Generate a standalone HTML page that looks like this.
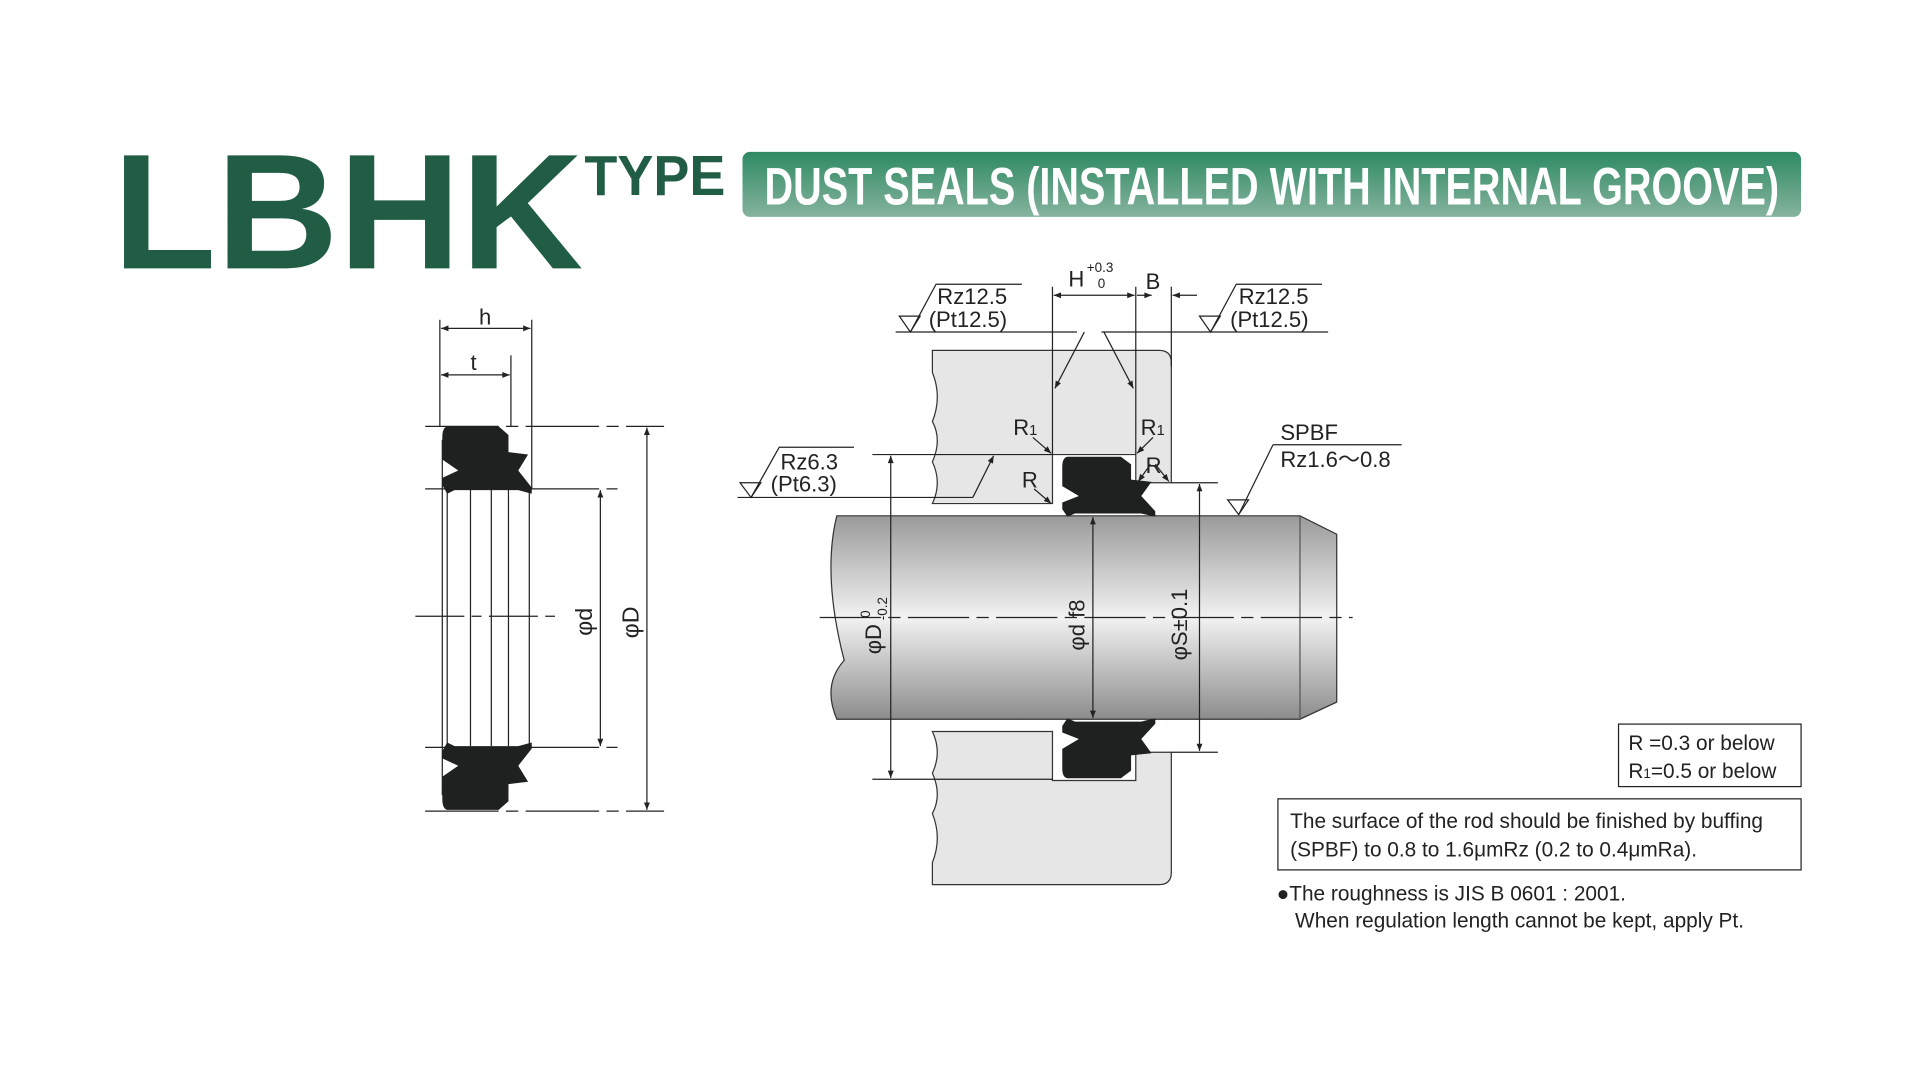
<!DOCTYPE html>
<html><head><meta charset="utf-8"><style>
html,body{margin:0;padding:0;background:#fff;width:1920px;height:1080px;overflow:hidden}
svg{display:block}
text{font-family:"Liberation Sans",sans-serif;fill:#222}
</style></head><body>
<svg width="1920" height="1080" viewBox="0 0 1560 877.5" xmlns="http://www.w3.org/2000/svg">
<defs>
<linearGradient id="ban" x1="0" y1="0" x2="0" y2="1"><stop offset="0" stop-color="#2e8a63"/><stop offset="1" stop-color="#86b39e"/></linearGradient>
<linearGradient id="rod" x1="0" y1="0" x2="0" y2="1"><stop offset="0" stop-color="#9a9a9a"/><stop offset="0.5" stop-color="#f2f2f2"/><stop offset="1" stop-color="#8c8c8c"/></linearGradient>
<marker id="ar" viewBox="0 0 10 10" refX="10" refY="5" markerWidth="9" markerHeight="6" orient="auto-start-reverse" markerUnits="userSpaceOnUse"><path d="M0,1 L10,5 L0,9 z" fill="#222"/></marker>
<path id="seal" d="M366,349 L408,349 L416,356 L416,370 L432,372 L424,385 L435,399 L435,404 L424,401 L372,401 L366,404 L362,397 L362,391 L375,385 L362,376 L362,358 Q362,350 366,349 Z" fill="#1e2120"/>
</defs>
<g transform="translate(-1,-1) scale(0.9955)">
<!-- Title -->
<text x="93" y="220" font-size="134" font-weight="bold" textLength="384" lengthAdjust="spacingAndGlyphs" style="fill:#215c45">LBHK</text>
<text x="478" y="160" font-size="46" font-weight="bold" textLength="115" lengthAdjust="spacingAndGlyphs" style="fill:#215c45">TYPE</text>
<rect x="607" y="125" width="864" height="53" rx="6" fill="url(#ban)"/>
<text x="625" y="168" font-size="43" font-weight="bold" textLength="828" lengthAdjust="spacingAndGlyphs" style="fill:#fff">DUST SEALS (INSTALLED WITH INTERNAL GROOVE)</text>

<!-- LEFT DRAWING -->
<g stroke="#222" stroke-width="1" fill="none">
<line x1="360" y1="262" x2="360" y2="349"/><line x1="435" y1="262" x2="435" y2="400"/>
<line x1="418" y1="291" x2="418" y2="349"/>
<line x1="361" y1="269" x2="434" y2="269" marker-start="url(#ar)" marker-end="url(#ar)"/>
<line x1="361" y1="307" x2="417" y2="307" marker-start="url(#ar)" marker-end="url(#ar)"/>
<line x1="362" y1="360" x2="362" y2="650"/><line x1="366" y1="400" x2="366" y2="610"/>
<line x1="385" y1="400" x2="385" y2="610"/><line x1="402" y1="400" x2="402" y2="610"/>
<line x1="416" y1="400" x2="416" y2="610"/><line x1="433" y1="400" x2="433" y2="610"/>
<line x1="348" y1="349" x2="543" y2="349" stroke-dasharray="60,6,10,6"/>
<line x1="348" y1="400" x2="505" y2="400" stroke-dasharray="60,6,10,6"/>
<line x1="348" y1="611" x2="505" y2="611" stroke-dasharray="60,6,10,6"/>
<line x1="348" y1="663" x2="543" y2="663" stroke-dasharray="60,6,10,6"/>
<line x1="340" y1="504" x2="455" y2="504" stroke-dasharray="40,6,8,6"/>
<line x1="491" y1="401" x2="491" y2="610" marker-start="url(#ar)" marker-end="url(#ar)"/>
<line x1="529" y1="350" x2="529" y2="662" marker-start="url(#ar)" marker-end="url(#ar)"/>
</g>
<use href="#seal"/>
<use href="#seal" transform="translate(0,1011) scale(1,-1)"/>
<text x="392" y="266" font-size="18">h</text>
<text x="385" y="303" font-size="18">t</text>
<text transform="translate(484,520) rotate(-90)" font-size="19">φd</text>
<text transform="translate(522,522) rotate(-90)" font-size="19">φD</text>

<!-- RIGHT DRAWING housing -->
<path d="M762,287 L947,287 Q957,287 957,297 L957,395 L928,395 L928,372 L860,372 L860,412 L762,412 Q770,395 762,378 Q770,360 762,345 Q770,325 762,305 Z" fill="#e6e6e6" stroke="#333" stroke-width="1"/>
<path d="M762,723 L947,723 Q957,723 957,713 L957,615 L928,615 L928,638 L860,638 L860,598 L762,598 Q770,615 762,632 Q770,650 762,665 Q770,685 762,705 Z" fill="#e6e6e6" stroke="#333" stroke-width="1"/>
<!-- rod -->
<path d="M684,422 L1062,422 L1092,437 L1092,574 L1062,588 L684,588 Q672,560 690,540 Q672,470 684,422 Z" fill="url(#rod)" stroke="#333" stroke-width="1"/>
<line x1="1062" y1="422" x2="1062" y2="588" stroke="#555" stroke-width="1"/>
<!-- seals -->
<use href="#seal" transform="translate(868,372) scale(1.04,0.89) translate(-362,-347)"/>
<use href="#seal" transform="translate(868,638) scale(1.04,-0.89) translate(-362,-347)"/>

<g stroke="#222" stroke-width="1" fill="none">
<line x1="670" y1="505" x2="1105" y2="505" stroke-dasharray="50,6,10,6"/>
<line x1="860" y1="235" x2="860" y2="372"/><line x1="928" y1="235" x2="928" y2="372"/><line x1="957" y1="235" x2="957" y2="300"/>
<line x1="861" y1="242" x2="927" y2="242" marker-start="url(#ar)" marker-end="url(#ar)"/>
<line x1="929" y1="242" x2="941" y2="242" marker-end="url(#ar)"/>
<line x1="978" y1="242" x2="958" y2="242" marker-end="url(#ar)"/>
<path d="M735,259 L752,259 L744,272 Z"/><path d="M744,272 L765,233 L835,233"/>
<line x1="732" y1="272" x2="880" y2="272"/>
<line x1="886" y1="272" x2="862" y2="318" marker-end="url(#ar)"/>
<path d="M980,259 L997,259 L989,272 Z"/><path d="M989,272 L1010,233 L1080,233"/>
<line x1="900" y1="272" x2="1085" y2="272"/>
<line x1="902" y1="272" x2="926" y2="318" marker-end="url(#ar)"/>
<path d="M605,395 L622,395 L614,407 Z"/><path d="M614,407 L637,366 L698,366"/>
<line x1="603" y1="407" x2="795" y2="407"/>
<line x1="795" y1="407" x2="812" y2="373" marker-end="url(#ar)"/>
<line x1="844" y1="358" x2="859" y2="371" marker-end="url(#ar)"/>
<line x1="942" y1="358" x2="929" y2="371" marker-end="url(#ar)"/>
<line x1="845" y1="400" x2="859" y2="412" marker-end="url(#ar)"/>
<line x1="940" y1="380" x2="930" y2="394" marker-end="url(#ar)"/>
<line x1="944" y1="380" x2="955" y2="394" marker-end="url(#ar)"/>
<line x1="713" y1="372" x2="860" y2="372"/><line x1="713" y1="637" x2="860" y2="637"/>
<line x1="728" y1="373" x2="728" y2="636" marker-start="url(#ar)" marker-end="url(#ar)"/>
<line x1="893" y1="423" x2="893" y2="587" marker-start="url(#ar)" marker-end="url(#ar)"/>
<line x1="957" y1="395" x2="995" y2="395"/><line x1="957" y1="615" x2="995" y2="615"/>
<line x1="980" y1="396" x2="980" y2="614" marker-start="url(#ar)" marker-end="url(#ar)"/>
<line x1="1040" y1="364" x2="1145" y2="364"/>
<line x1="1040" y1="364" x2="1012" y2="421"/>
<path d="M1003,409 L1020,409 L1012,421 Z"/>
</g>
<text x="873" y="235" font-size="18">H</text>
<text x="888" y="223" font-size="11">+0.3</text>
<text x="897" y="236" font-size="11">0</text>
<text x="936" y="237" font-size="18">B</text>
<text x="766" y="249" font-size="18">Rz12.5</text>
<text x="759" y="268" font-size="18">(Pt12.5)</text>
<text x="1012" y="249" font-size="18">Rz12.5</text>
<text x="1005" y="268" font-size="18">(Pt12.5)</text>
<text x="638" y="384" font-size="18">Rz6.3</text>
<text x="630" y="402" font-size="18">(Pt6.3)</text>
<text x="828" y="356" font-size="18">R<tspan font-size="12">1</tspan></text>
<text x="932" y="356" font-size="18">R<tspan font-size="12">1</tspan></text>
<text x="835" y="399" font-size="18">R</text>
<text x="936" y="387" font-size="18">R</text>
<text x="1046" y="360" font-size="18">SPBF</text>
<text x="1046" y="382" font-size="18">Rz1.6〜0.8</text>
<text transform="translate(720,535) rotate(-90)" font-size="18">φD <tspan font-size="11" dy="-9">0</tspan><tspan font-size="11" dx="-8" dy="14">-0.2</tspan></text>
<text transform="translate(886,532) rotate(-90)" font-size="18">φd f8</text>
<text transform="translate(970,540) rotate(-90)" font-size="18">φS±0.1</text>

<rect x="1322" y="592" width="149" height="51" fill="none" stroke="#222" stroke-width="1"/>
<text x="1330" y="613" font-size="17">R =0.3 or below</text>
<text x="1330" y="636" font-size="17">R<tspan font-size="11">1</tspan>=0.5 or below</text>
<rect x="1044" y="653" width="427" height="58" fill="none" stroke="#222" stroke-width="1"/>
<text x="1054" y="677" font-size="17">The surface of the rod should be finished by buffing</text>
<text x="1054" y="700" font-size="17">(SPBF) to 0.8 to 1.6μmRz (0.2 to 0.4μmRa).</text>
<text x="1043" y="736" font-size="17">●The roughness is JIS B 0601 : 2001.</text>
<text x="1058" y="758" font-size="17">When regulation length cannot be kept, apply Pt.</text>
</g>
</svg>
</body></html>
